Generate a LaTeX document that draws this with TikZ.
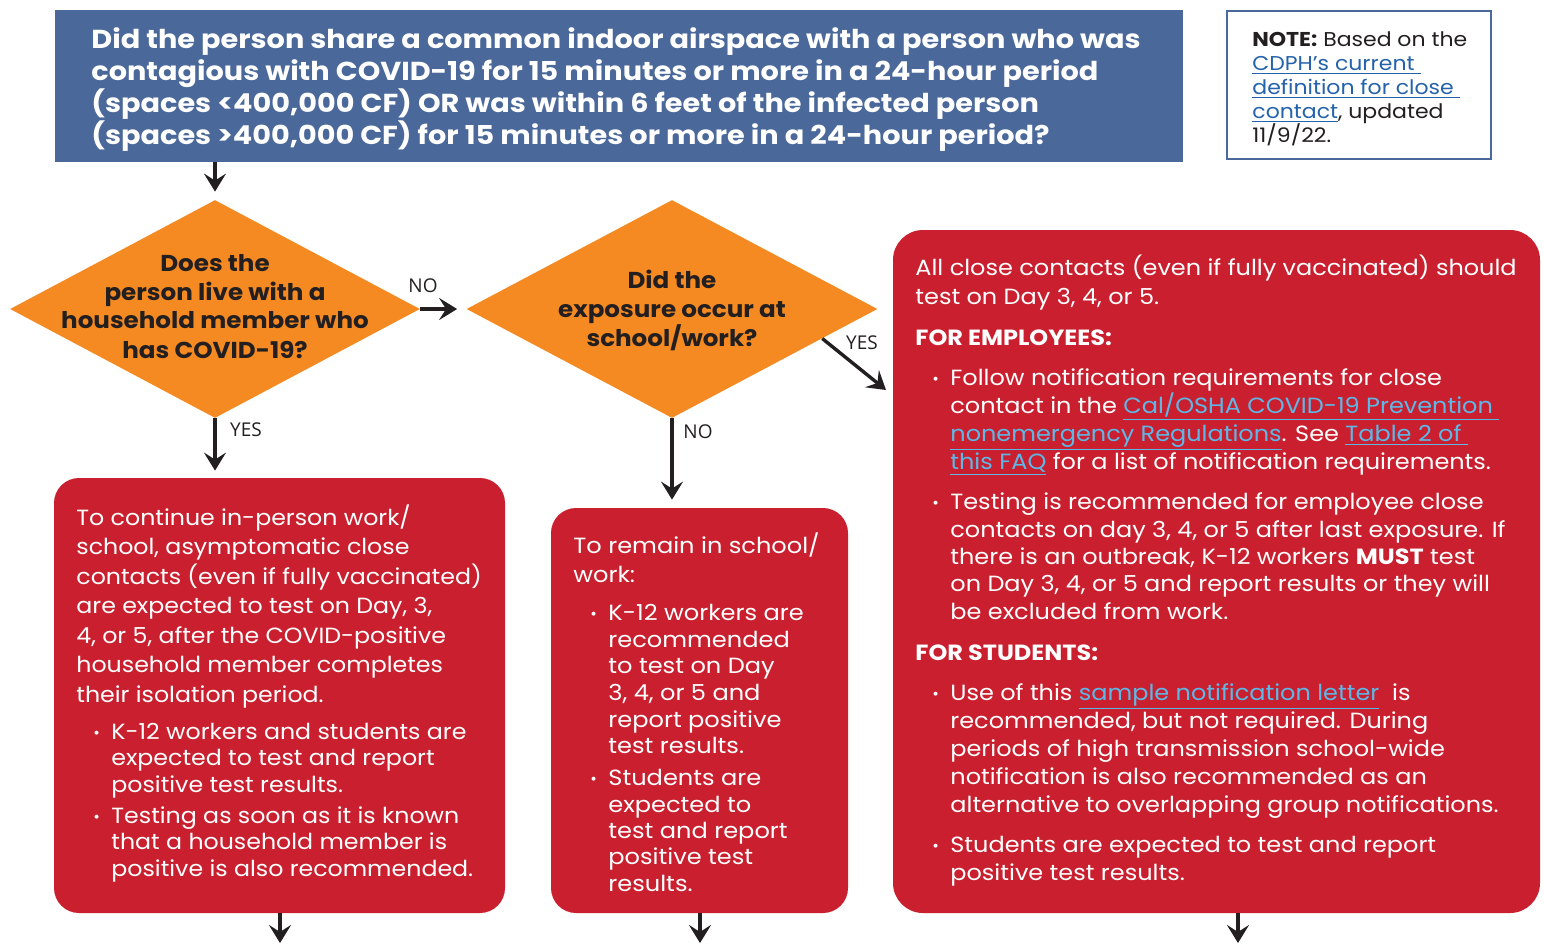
\documentclass[tikz,border=0pt]{standalone}
\usepackage{fontspec}
\setmainfont{Poppins}
\newfontfamily\lblfont{Open Sans}
\usetikzlibrary{arrows.meta,shapes.geometric,calc}
\definecolor{tblue}{HTML}{4A6899}
\definecolor{orng}{HTML}{F48A21}
\definecolor{rred}{HTML}{C91F2E}
\definecolor{ink}{HTML}{231F20}
\definecolor{lnk}{HTML}{2462AC}
\definecolor{lnkl}{HTML}{5DB8E8}
\newcommand\lk[1]{\textcolor{lnkl}{\underline{#1}}}
\newcommand\nlk[1]{\textcolor{lnk}{\underline{#1}}}
\newcommand\wl[4]{\node[wtxt] (#1) at (#2,#3) {#4};}
\newcommand\ml[4]{\node[mtxt] (#1) at (#2,#3) {#4};}
\newcommand\rl[4]{\node[rtxt] (#1) at (#2,#3) {#4};}
\newcommand\bl[3]{\node[bul] (#1) at (#2,#3) {\textbullet};}
\tikzset{
  arr/.style={line width=1.7pt, draw=ink, -{Stealth[length=9pt,width=11pt,inset=3.5pt]}},
  ttl/.style={anchor=base west, inner sep=0pt, text=white, font=\fontsize{13}{15}\selectfont\bfseries\addfontfeature{FakeStretch=1.105}},
  ntxt/.style={anchor=base west, inner sep=0pt, text=ink, font=\fontsize{10}{11}\selectfont\addfontfeature{FakeStretch=1.1}},
  dtxt/.style={anchor=base, inner sep=0pt, text=ink, font=\fontsize{11.5}{13}\selectfont\bfseries\addfontfeature{FakeStretch=1.07}},
  wtxt/.style={anchor=base west, inner sep=0pt, text=white, font=\fontsize{11}{13}\selectfont\addfontfeature{FakeStretch=1.077}},
  mtxt/.style={anchor=base west, inner sep=0pt, text=white, font=\fontsize{11}{13}\selectfont\addfontfeature{FakeStretch=1.095}},
  rtxt/.style={anchor=base west, inner sep=0pt, text=white, font=\fontsize{11}{13}\selectfont\addfontfeature{FakeStretch=1.09}},
  bul/.style={anchor=base west, inner sep=0pt, text=white, font=\fontsize{8}{9}\selectfont},
  lbl/.style={inner sep=0pt, text=ink, font=\fontsize{9.5}{11}\selectfont\lblfont},
  redbox/.style={fill=rred, rounded corners=12.5pt, inner sep=0pt},
  dia/.style={diamond, fill=orng, inner sep=0pt},
}
\begin{document}
\begin{tikzpicture}[x=0.5pt,y=-0.5pt]
\useasboundingbox (0,0) rectangle (1544,944);
\fill[white] (0,0) rectangle (1544,944);
% title
\node[fill=tblue, minimum width=564pt, minimum height=76pt, inner sep=0pt] (title) at (619,86) {};
\node[ttl] (t1) at (91,48) {Did the person share a common indoor airspace with a person who was};
\node[ttl] (t2) at (91,80) {contagious with COVID-19 for 15 minutes or more in a 24-hour period};
\node[ttl] (t3) at (91,112) {(spaces <400,000 CF) OR was within 6 feet of the infected person};
\node[ttl] (t4) at (91,144) {(spaces >400,000 CF) for 15 minutes or more in a 24-hour period?};
% note
\node[draw=tblue, line width=1.25pt, fill=white, minimum width=132pt, minimum height=74pt, inner sep=0pt] (note) at (1359,85) {};
\node[ntxt] (n1) at (1252,46) {\textbf{NOTE:} Based on the};
\node[ntxt] (n2) at (1252,70) {\nlk{CDPH’s current\ }};
\node[ntxt] (n3) at (1252,94) {\nlk{definition for close\ }};
\node[ntxt] (n4) at (1252,118) {\nlk{contact}, updated};
\node[ntxt] (n5) at (1252,142) {11/9/22.};
% diamonds
\node[dia, minimum width=205pt, minimum height=109pt] (d1) at (215,309) {};
\node[dtxt] (d1a) at (215,271) {Does the};
\node[dtxt] (d1b) at (215,300) {person live with a};
\node[dtxt] (d1c) at (215,328) {household member who};
\node[dtxt] (d1d) at (215,358) {has COVID-19?};
\node[dia, minimum width=205.5pt, minimum height=109pt] (d2) at (672,309) {};
\node[dtxt] (d2a) at (672,288) {Did the};
\node[dtxt] (d2b) at (672,317) {exposure occur at};
\node[dtxt] (d2c) at (672,346) {school/work?};
% red boxes
\node[redbox, minimum width=225.5pt, minimum height=217.5pt] (b1) at (279.5,695.5) {};
\node[redbox, minimum width=148.5pt, minimum height=202.5pt] (b2) at (699.5,710.5) {};
\node[redbox, rounded corners=15pt, minimum width=323.5pt, minimum height=341.5pt] (b3) at (1216.5,571.5) {};
% box 1 text
\wl{a1}{76}{525}{To continue in-person work/}
\wl{a2}{76}{554.5}{school, asymptomatic close}
\wl{a3}{76}{584}{contacts (even if fully vaccinated)}
\wl{a4}{76}{613.5}{are expected to test on Day, 3,}
\wl{a5}{76}{643}{4, or 5, after the COVID-positive}
\wl{a6}{76}{672.5}{household member completes}
\wl{a7}{76}{702}{their isolation period.}
\bl{ab1}{93}{738}
\wl{a8}{111}{739}{K-12 workers and students are}
\wl{a9}{111}{765}{expected to test and report}
\wl{a10}{111}{792}{positive test results.}
\bl{ab2}{93}{822}
\wl{a11}{111}{823}{Testing as soon as it is known}
\wl{a12}{111}{849}{that a household member is}
\wl{a13}{111}{876}{positive is also recommended.}
% box 2 text
\ml{m1}{573}{553}{To remain in school/}
\ml{m2}{573}{582}{work:}
\bl{mb1}{590}{619}
\ml{m3}{608}{620}{K-12 workers are}
\ml{m4}{608}{647}{recommended}
\ml{m5}{608}{673}{to test on Day}
\ml{m6}{608}{700}{3, 4, or 5 and}
\ml{m7}{608}{727}{report positive}
\ml{m8}{608}{753}{test results.}
\bl{mb2}{590}{784}
\ml{m9}{608}{785}{Students are}
\ml{m10}{608}{812}{expected to}
\ml{m11}{608}{838}{test and report}
\ml{m12}{608}{864}{positive test}
\ml{m13}{608}{891}{results.}
% box 3 text
\rl{r1}{915}{275}{All close contacts (even if fully vaccinated) should}
\rl{r2}{915}{304}{test on Day 3, 4, or 5.}
\rl{r3}{915}{345}{\textbf{FOR EMPLOYEES:}}
\bl{rb1}{932}{384}
\rl{r4}{950}{385}{Follow notification requirements for close}
\rl{r5}{950}{413}{contact in the \lk{Cal/OSHA COVID-19 Prevention\ }}
\rl{r6}{950}{441}{\lk{nonemergency Regulations}. See \lk{Table 2 of\ }}
\rl{r7}{950}{469}{\lk{this FAQ} for a list of notification requirements.}
\bl{rb2}{932}{508}
\rl{r8}{950}{509}{Testing is recommended for employee close}
\rl{r9}{950}{537}{contacts on day 3, 4, or 5 after last exposure. If}
\rl{r10}{950}{564}{there is an outbreak, K-12 workers \textbf{MUST} test}
\rl{r11}{950}{591}{on Day 3, 4, or 5 and report results or they will}
\rl{r12}{950}{619}{be excluded from work.}
\rl{r13}{915}{660}{\textbf{FOR STUDENTS:}}
\bl{rb3}{932}{699}
\rl{r14}{950}{700}{Use of this \lk{sample notification letter}\ \ is}
\rl{r15}{950}{728}{recommended, but not required. During}
\rl{r16}{950}{756}{periods of high transmission school-wide}
\rl{r17}{950}{784}{notification is also recommended as an}
\rl{r18}{950}{812}{alternative to overlapping group notifications.}
\bl{rb4}{932}{851}
\rl{r19}{950}{852}{Students are expected to test and report}
\rl{r20}{950}{880}{positive test results.}
% connectors
\draw[arr, shorten >=4pt] (title.south -| d1.north) -- (d1.north);
\draw[arr, shorten >=4.5pt] (d1.east) -- (d2.west);
\draw[arr, shorten >=3.5pt] (d1.south) -- (b1.north -| d1.south);
\draw[arr, shorten >=4pt] (d2.south) -- (b2.north -| d2.south);
\coordinate (d2y) at ($(d2.east)!0.27!(d2.south)$);
\coordinate (yesend) at (886,390);
\draw[arr] (d2y) -- (yesend);
\coordinate (e1) at (280,943);
\coordinate (e2) at (700,943);
\coordinate (e3) at (1238,943);
\draw[arr] (b1.south -| e1) -- (e1);
\draw[arr] (b2.south -| e2) -- (e2);
\draw[arr] (b3.south -| e3) -- (e3);
% labels
\node[lbl] (lno1) at (423,286) {NO};
\node[lbl] (lyes1) at (246,430) {YES};
\node[lbl] (lno2) at (698,432) {NO};
\node[lbl] (lyes2) at (862,343) {YES};
\end{tikzpicture}
\end{document}
